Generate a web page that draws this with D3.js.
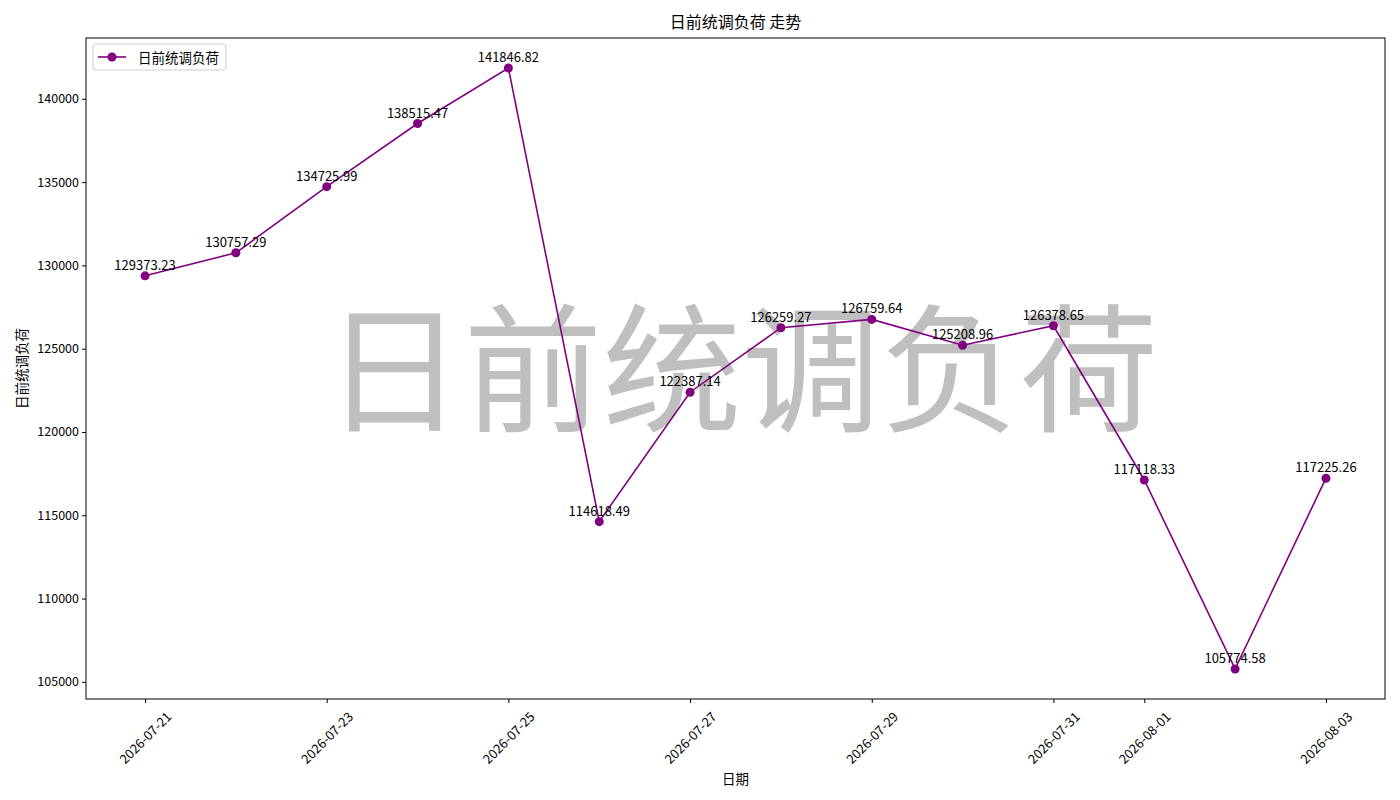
<!DOCTYPE html>
<html><head><meta charset="utf-8">
<script src="https://cdn.jsdelivr.net/npm/d3@7"></script>
<style>body{margin:0;background:#fff;} text{font-family:"Noto Sans CJK SC","DejaVu Sans",sans-serif;}</style>
</head><body>
<svg id="c" width="1400" height="800"></svg>
<script>
const dates = ["2026-07-21","2026-07-22","2026-07-23","2026-07-24","2026-07-25","2026-07-26","2026-07-27","2026-07-28","2026-07-29","2026-07-30","2026-07-31","2026-08-01","2026-08-02","2026-08-03"];
const values = [129373.23,130757.29,134725.99,138515.47,141846.82,114618.49,122387.14,126259.27,126759.64,125208.96,126378.65,117118.33,105774.58,117225.26];
const xTickLabels = ["2026-07-21","2026-07-23","2026-07-25","2026-07-27","2026-07-29","2026-07-31","2026-08-01","2026-08-03"];
const yTicks = [105000,110000,115000,120000,125000,130000,135000,140000];
const title = "日前统调负荷 走势";
const seriesName = "日前统调负荷";
const xLabel = "日期";
const yLabel = "日前统调负荷";

const parse = d3.utcParse("%Y-%m-%d");
const svg = d3.select("#c");
const L=86,R=1385,T=38,B=699;
const dx = dates.map(parse);
const xmin = dx[0], xmax = dx[dx.length-1];
const span = xmax - xmin;
const x = d3.scaleUtc().domain([new Date(+xmin - span*0.05), new Date(+xmax + span*0.05)]).range([L,R]);
const vmin = d3.min(values), vmax = d3.max(values), vs = vmax-vmin;
const y = d3.scaleLinear().domain([vmin - vs*0.05, vmax + vs*0.05]).range([B,T]);

// watermark
svg.append("text").attr("x",(L+R)/2+6).attr("y",(T+B)/2-8).attr("text-anchor","middle").attr("dominant-baseline","central")
  .attr("font-size",139).attr("fill","#808080").attr("fill-opacity",0.5).text(seriesName);

// axes
const xa = svg.append("g").attr("transform",`translate(0,${B})`)
  .call(d3.axisBottom(x).tickValues(xTickLabels.map(parse)).tickFormat(d3.utcFormat("%Y-%m-%d")).tickSizeOuter(0).tickSize(4));
xa.selectAll("text").attr("font-size",13).attr("fill","#000").attr("text-anchor","middle")
  .attr("y",0).attr("dy","0.35em").attr("transform","translate(0,39) rotate(-45)");
const ya = svg.append("g").attr("transform",`translate(${L},0)`)
  .call(d3.axisLeft(y).tickValues(yTicks).tickFormat(d3.format("d")).tickSizeOuter(0).tickSize(4));
ya.selectAll("text").attr("font-size",12.5).attr("fill","#000");
svg.selectAll(".domain").remove();
svg.selectAll(".tick line").attr("stroke","#000");
svg.append("rect").attr("x",L).attr("y",T).attr("width",R-L).attr("height",B-T).attr("fill","none").attr("stroke","#000").attr("stroke-width",1);

// line
const line = d3.line().x((d,i)=>x(dx[i])).y(d=>y(d));
svg.append("path").datum(values).attr("d",line).attr("fill","none").attr("stroke","#800080").attr("stroke-width",1.6);
svg.selectAll("circle.pt").data(values).join("circle").attr("class","pt")
  .attr("cx",(d,i)=>x(dx[i])).attr("cy",d=>y(d)).attr("r",4.5).attr("fill","#800080");
svg.selectAll("text.lbl").data(values).join("text").attr("class","lbl")
  .attr("x",(d,i)=>x(dx[i])).attr("y",d=>y(d)-6).attr("text-anchor","middle")
  .attr("font-size",13).attr("fill","#000").text(d=>d.toFixed(2));

// title & labels
svg.append("text").attr("x",(L+R)/2).attr("y",28).attr("text-anchor","middle").attr("font-size",16).text(title);
svg.append("text").attr("x",(L+R)/2).attr("y",784).attr("text-anchor","middle").attr("font-size",13.5).text(xLabel);
svg.append("text").attr("transform",`translate(27,${(T+B)/2}) rotate(-90)`).attr("text-anchor","middle").attr("font-size",13.5).text(yLabel);

// legend
const lg = svg.append("g");
lg.append("rect").attr("x",93).attr("y",44).attr("width",133).attr("height",26).attr("rx",3).attr("fill","#fff").attr("fill-opacity",0.8).attr("stroke","#ccc");
lg.append("line").attr("x1",98).attr("x2",126).attr("y1",57).attr("y2",57).attr("stroke","#800080").attr("stroke-width",1.6);
lg.append("circle").attr("cx",112).attr("cy",57).attr("r",4.5).attr("fill","#800080");
lg.append("text").attr("x",138).attr("y",57).attr("dominant-baseline","central").attr("font-size",13.5).text(seriesName);
</script>
</body></html>
